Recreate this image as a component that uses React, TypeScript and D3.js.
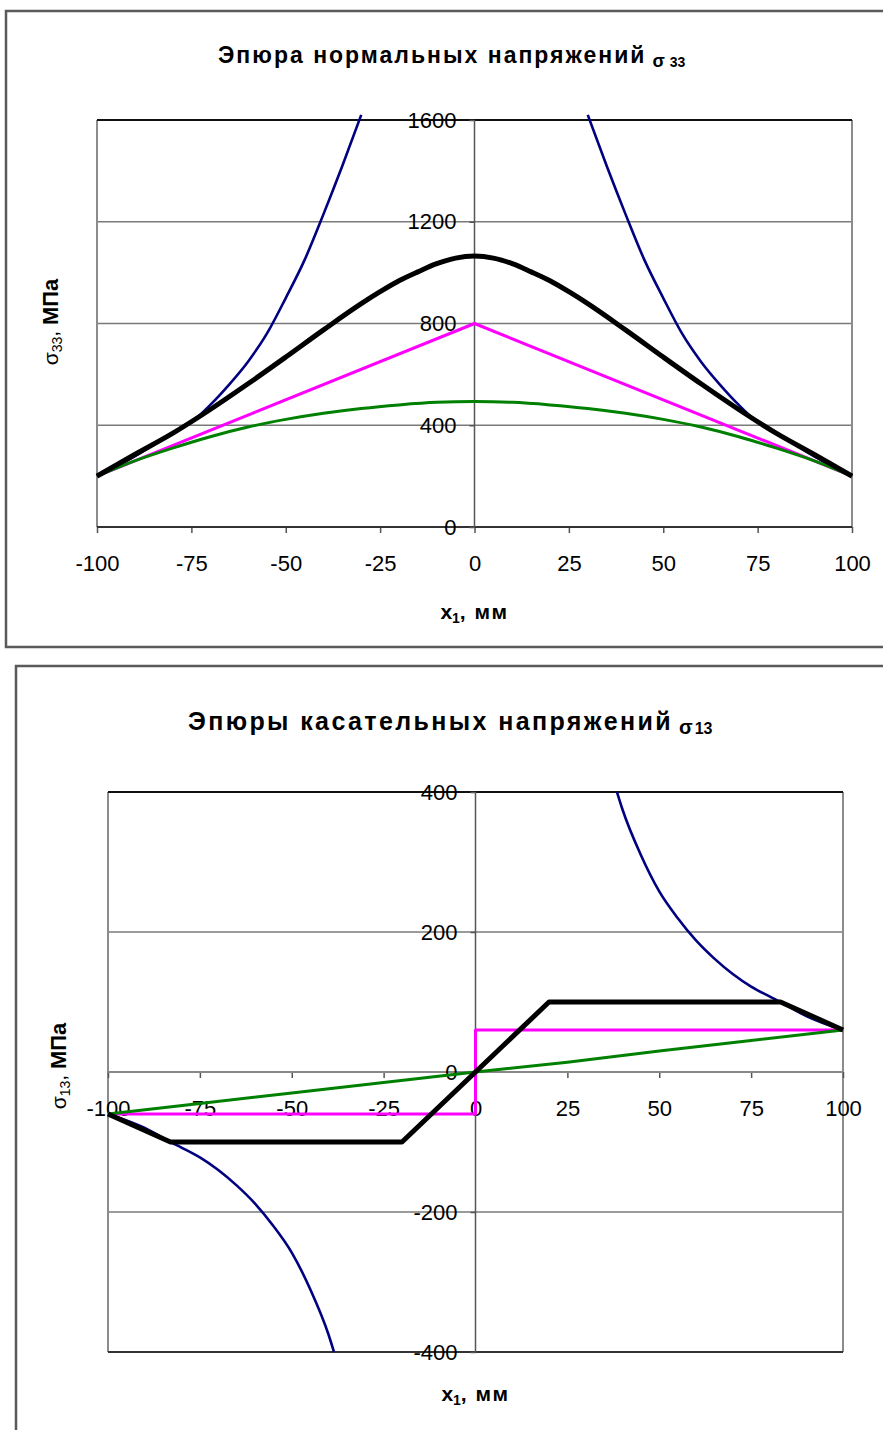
import React, { useRef, useEffect } from "react";
import * as d3 from "d3";

const FONT = "'Liberation Sans', Arial, sans-serif";

const xTicks = [-100, -75, -50, -25, 0, 25, 50, 75, 100];

// верхняя диаграмма: нормальные напряжения σ33
const normalTicks = [0, 400, 800, 1200, 1600];
const normalBlackX = [-100, -90, -80, -70, -60, -50, -40, -30, -25, -20, -15, -10, -5, 0, 5, 10, 15, 20, 25, 30, 40, 50, 60, 70, 80, 90, 100];
const normalBlack = [200, 285, 368, 462, 563, 668, 775, 878, 925, 968, 1003, 1035, 1057, 1065, 1057, 1035, 1003, 968, 925, 878, 775, 668, 563, 462, 368, 285, 200];
const normalGreenX = [-100, -90, -80, -70, -60, -50, -40, -30, -20, -10, 0, 10, 20, 30, 40, 50, 60, 70, 80, 90, 100];
const normalGreen = [200, 260, 310, 355, 393, 423, 447, 466, 480, 490, 493, 490, 480, 466, 447, 423, 393, 355, 310, 260, 200];
const normalMagentaX = [-100, 0, 100];
const normalMagenta = [200, 800, 200];
const normalBlueLeftX = [-100, -90, -80, -75, -70, -65, -60, -55, -50, -45, -40, -35, -30];
const normalBlueLeft = [200, 278, 370, 412, 480, 560, 650, 760, 900, 1050, 1230, 1420, 1620];
const normalBlueRightX = [30, 35, 40, 45, 50, 55, 60, 65, 70, 75, 80, 90, 100];
const normalBlueRight = [1620, 1420, 1230, 1050, 900, 760, 650, 560, 480, 412, 370, 278, 200];

// нижняя диаграмма: касательные напряжения σ13
const shearTicks = [-400, -200, 0, 200, 400];
const shearBlackX = [-100, -83, -20, 0, 20, 83, 100];
const shearBlack = [-60, -100, -100, 0, 100, 100, 60];
const shearMagentaX = [-100, 0, 0, 100];
const shearMagenta = [-60, -60, 60, 60];
const shearGreenX = [-100, -75, -50, -25, 0, 25, 50, 75, 100];
const shearGreen = [-60, -45, -30, -15, 0, 14, 30, 45, 60];
const shearBlueLeftX = [-100, -90, -83, -80, -75, -70, -65, -60, -55, -50, -45, -40, -38.5];
const shearBlueLeft = [-60, -80, -100, -108, -122, -140, -162, -188, -220, -258, -310, -375, -400];
const shearBlueRightX = [38.5, 40, 45, 50, 55, 60, 65, 70, 75, 80, 83, 90, 100];
const shearBlueRight = [400, 375, 310, 258, 220, 188, 162, 140, 122, 108, 100, 80, 60];

const zip = (xs, ys) => xs.map((v, i) => [v, ys[i]]);
const fmt = (d) => String(d);

function drawChart(svg, o) {
  const x = d3.scaleLinear().domain([-100, 100]).range([o.left, o.right]);
  const y = d3.scaleLinear().domain(o.yDomain).range([o.bottom, o.top]);
  const g = svg.append("g");

  // рамка вокруг диаграммы
  g.append("rect")
    .attr("x", o.frame[0])
    .attr("y", o.frame[1])
    .attr("width", o.frame[2])
    .attr("height", o.frame[3])
    .attr("fill", "none")
    .attr("stroke", "#5a5a5a")
    .attr("stroke-width", 2.5);

  // сетка
  g.selectAll(".grid")
    .data(o.yTicks.filter((t) => t !== 0 && t !== o.yDomain[0] && t !== o.yDomain[1]))
    .join("line")
    .attr("x1", o.left)
    .attr("x2", o.right)
    .attr("y1", (d) => y(d))
    .attr("y2", (d) => y(d))
    .attr("stroke", "#7a7a7a")
    .attr("stroke-width", 1.6);

  // границы области построения
  g.append("line").attr("x1", o.left).attr("x2", o.left).attr("y1", o.top).attr("y2", o.bottom)
    .attr("stroke", "#8c8c8c").attr("stroke-width", 2);
  g.append("line").attr("x1", o.right).attr("x2", o.right).attr("y1", o.top).attr("y2", o.bottom)
    .attr("stroke", "#8c8c8c").attr("stroke-width", 2);
  g.append("line").attr("x1", o.left).attr("x2", o.right).attr("y1", o.top).attr("y2", o.top)
    .attr("stroke", "#111").attr("stroke-width", 2);
  g.append("line").attr("x1", o.left).attr("x2", o.right).attr("y1", o.bottom).attr("y2", o.bottom)
    .attr("stroke", "#333").attr("stroke-width", 2);

  // ось X в нуле
  const xAxis = g.append("g")
    .attr("transform", `translate(0, ${y(0)})`)
    .call(d3.axisBottom(x).tickValues(xTicks).tickSize(6).tickPadding(22).tickFormat(fmt));
  xAxis.select(".domain").remove();
  xAxis.selectAll("line").attr("stroke", "#555").attr("stroke-width", 1.5);
  xAxis.selectAll("text").attr("font-size", 22).attr("font-family", FONT).attr("fill", "#000");
  g.append("line").attr("x1", o.left).attr("x2", o.right).attr("y1", y(0)).attr("y2", y(0))
    .attr("stroke", o.zeroColor).attr("stroke-width", 1.8);

  // ось Y в нуле
  const yAxis = g.append("g")
    .attr("transform", `translate(${x(0)}, 0)`)
    .call(d3.axisLeft(y).tickValues(o.yTicks).tickSize(5).tickPadding(13).tickFormat(fmt));
  yAxis.select(".domain").remove();
  yAxis.selectAll("line").attr("stroke", "#555").attr("stroke-width", 1.5);
  yAxis.selectAll("text").attr("font-size", 22).attr("font-family", FONT).attr("fill", "#000");
  g.append("line").attr("x1", x(0)).attr("x2", x(0)).attr("y1", o.top).attr("y2", o.bottom)
    .attr("stroke", "#555").attr("stroke-width", 1.5);

  // кривые
  o.series.forEach((s) => {
    const line = d3.line().x((d) => x(d[0])).y((d) => y(d[1])).curve(s.curve);
    g.append("path")
      .attr("d", line(s.data))
      .attr("fill", "none")
      .attr("stroke", s.color)
      .attr("stroke-width", s.width)
      .attr("stroke-linejoin", "round");
  });

  // заголовок
  const t = g.append("text")
    .attr("x", o.titleX)
    .attr("y", o.titleY)
    .attr("font-family", FONT)
    .attr("font-weight", "bold")
    .attr("fill", "#000");
  t.append("tspan").attr("font-size", o.titleSize).attr("letter-spacing", o.titleSpacing).text(o.title);
  t.append("tspan").attr("font-size", o.titleSize - 5).attr("dx", 6).attr("dy", 4).text("σ");
  t.append("tspan").attr("font-size", o.titleSize - 9).attr("dx", o.subGap).text(o.sub);

  // подпись оси Y
  const yl = g.append("text")
    .attr("transform", `translate(${o.yLabelX}, ${o.yLabelY}) rotate(-90)`)
    .attr("text-anchor", "middle")
    .attr("font-family", FONT)
    .attr("fill", "#000");
  yl.append("tspan").attr("font-size", 21).text("σ");
  yl.append("tspan").attr("font-size", 14).attr("dy", 4).text(o.sub);
  yl.append("tspan").attr("font-size", 21).attr("dy", -4).text(", ");
  yl.append("tspan").attr("font-size", 22).attr("font-weight", "bold").text("МПа");

  // подпись оси X
  const xl = g.append("text")
    .attr("x", x(0))
    .attr("y", o.xLabelY)
    .attr("text-anchor", "middle")
    .attr("font-family", FONT)
    .attr("font-weight", "bold")
    .attr("fill", "#000");
  xl.append("tspan").attr("font-size", 21).text("x");
  xl.append("tspan").attr("font-size", 14).attr("dy", 4).text("1");
  xl.append("tspan").attr("font-size", 21).attr("dy", -4).attr("letter-spacing", 1.5).text(", мм");
}

export default function App() {
  const ref = useRef(null);

  useEffect(() => {
    const svg = d3.select(ref.current);
    svg.selectAll("*").remove();

    drawChart(svg, {
      frame: [6, 11, 900, 636],
      left: 97, right: 852, top: 120, bottom: 527,
      yDomain: [0, 1600],
      yTicks: normalTicks,
      zeroColor: "#333",
      title: "Эпюра нормальных напряжений",
      sub: "33",
      subGap: 5,
      titleX: 218, titleY: 63, titleSize: 23, titleSpacing: 2,
      yLabelX: 58, yLabelY: 322,
      xLabelY: 619,
      series: [
        { data: zip(normalBlueLeftX, normalBlueLeft), color: "#000080", width: 2.6, curve: d3.curveMonotoneX },
        { data: zip(normalBlueRightX, normalBlueRight), color: "#000080", width: 2.6, curve: d3.curveMonotoneX },
        { data: zip(normalMagentaX, normalMagenta), color: "#ff00ff", width: 3, curve: d3.curveLinear },
        { data: zip(normalGreenX, normalGreen), color: "#008000", width: 3, curve: d3.curveMonotoneX },
        { data: zip(normalBlackX, normalBlack), color: "#000", width: 5, curve: d3.curveMonotoneX },
      ],
    });

    drawChart(svg, {
      frame: [16, 666, 900, 800],
      left: 108, right: 843, top: 792, bottom: 1352,
      yDomain: [-400, 400],
      yTicks: shearTicks,
      zeroColor: "#888",
      title: "Эпюры касательных напряжений",
      sub: "13",
      subGap: 2,
      titleX: 188, titleY: 730, titleSize: 25, titleSpacing: 2.4,
      yLabelX: 66, yLabelY: 1066,
      xLabelY: 1401,
      series: [
        { data: zip(shearBlueLeftX, shearBlueLeft), color: "#000080", width: 2.6, curve: d3.curveMonotoneX },
        { data: zip(shearBlueRightX, shearBlueRight), color: "#000080", width: 2.6, curve: d3.curveMonotoneX },
        { data: zip(shearMagentaX, shearMagenta), color: "#ff00ff", width: 3, curve: d3.curveLinear },
        { data: zip(shearGreenX, shearGreen), color: "#008000", width: 3, curve: d3.curveLinear },
        { data: zip(shearBlackX, shearBlack), color: "#000", width: 5, curve: d3.curveLinear },
      ],
    });
  }, []);

  return (
    <svg
      ref={ref}
      width={883}
      height={1430}
      style={{ position: "absolute", left: 0, top: 0, background: "#fff" }}
    ></svg>
  );
}
